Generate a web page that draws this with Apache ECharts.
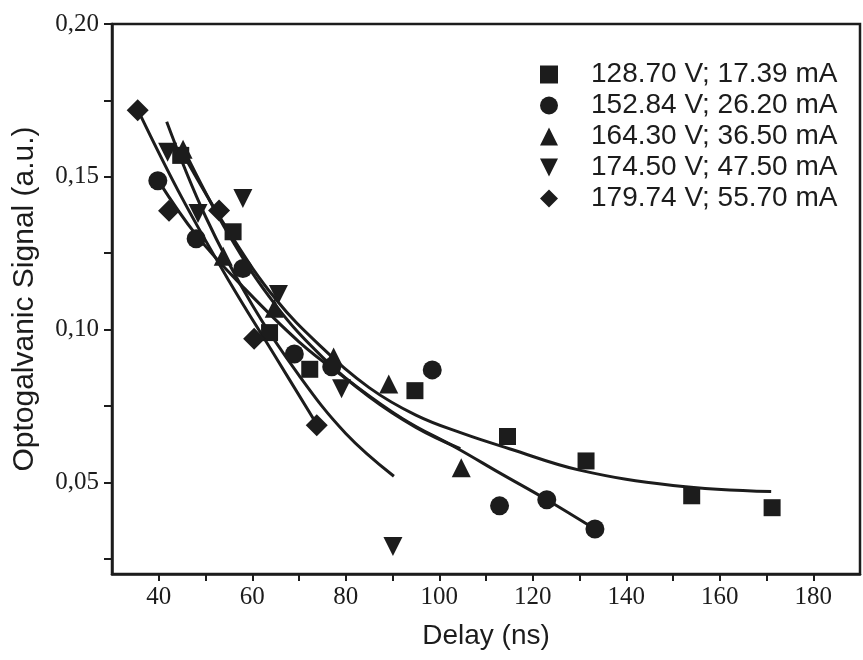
<!DOCTYPE html>
<html>
<head>
<meta charset="utf-8">
<script src="https://cdn.jsdelivr.net/npm/echarts@6/dist/echarts.min.js"></script>
<style>html,body{margin:0;padding:0;background:#fff}#c{width:863px;height:660px}</style>
</head>
<body>
<div id="c"></div>
<script>
// ---- data ----
const seriesNames = ['128.70 V; 17.39 mA', '152.84 V; 26.20 mA', '164.30 V; 36.50 mA', '174.50 V; 47.50 mA', '179.74 V; 55.70 mA'];

const delaySq = [44.7, 55.9, 63.7, 72.3, 94.8, 114.6, 131.4, 154.0, 171.2];
const signalSq = [0.157, 0.132, 0.099, 0.087, 0.080, 0.065, 0.057, 0.0456, 0.0417];

const delayCi = [39.8, 48.0, 58.0, 69.0, 77.0, 98.5, 112.9, 123.0, 133.3];
const signalCi = [0.1487, 0.1297, 0.120, 0.092, 0.0878, 0.0868, 0.0423, 0.0443, 0.0347];

const delayUp = [45.2, 53.8, 64.7, 77.4, 89.2, 104.7];
const signalUp = [0.159, 0.124, 0.107, 0.091, 0.0822, 0.0548];

const delayDn = [41.9, 48.4, 58.0, 65.6, 79.1, 90.1];
const signalDn = [0.158, 0.138, 0.1429, 0.1115, 0.0806, 0.029];

const delayDi = [35.5, 42.2, 52.9, 60.4, 73.8];
const signalDi = [0.1718, 0.1389, 0.139, 0.097, 0.0687];

// fitted curves
const fitSqX = [45, 55, 65, 75, 85, 95, 105, 115, 130, 150, 171];
const fitSqY = [0.158, 0.132, 0.110, 0.094, 0.081, 0.072, 0.066, 0.061, 0.054, 0.049, 0.047];
const fitCiX = [39.8, 48, 58, 70, 80, 92, 104, 113, 123, 133.3];
const fitCiY = [0.149, 0.131, 0.114, 0.096, 0.084, 0.071, 0.061, 0.053, 0.0443, 0.0347];
const fitUpX = [45, 55, 65, 75, 85, 95, 104.5];
const fitUpY = [0.160, 0.131, 0.108, 0.091, 0.078, 0.068, 0.061];
const fitDnX = [41.7, 50, 60, 70, 80, 90.3];
const fitDnY = [0.168, 0.137, 0.108, 0.085, 0.066, 0.052];
const fitDiX = [35.5, 45, 55, 65, 73.8];
const fitDiY = [0.172, 0.143, 0.116, 0.091, 0.069];

const xTickValues = [40, 50, 60, 70, 80, 90, 100, 110, 120, 130, 140, 150, 160, 170, 180];
const xLabelValues = [40, 60, 80, 100, 120, 140, 160, 180];
const yTickValues = [0.025, 0.05, 0.075, 0.10, 0.125, 0.15, 0.175, 0.20];
const yLabelValues = [0.05, 0.10, 0.15, 0.20];

// ---- chart ----
const ink = '#1c1c1c';
const downTri = 'path://M0,0L2,0L1,2Z';
const zip = (xs, ys) => xs.map((x, i) => [x, ys[i]]);

const marks = [
  { name: seriesNames[0], data: zip(delaySq, signalSq), symbol: 'rect', size: 17 },
  { name: seriesNames[1], data: zip(delayCi, signalCi), symbol: 'circle', size: 19 },
  { name: seriesNames[2], data: zip(delayUp, signalUp), symbol: 'triangle', size: 19 },
  { name: seriesNames[3], data: zip(delayDn, signalDn), symbol: downTri, size: 19 },
  { name: seriesNames[4], data: zip(delayDi, signalDi), symbol: 'diamond', size: 22 }
];
const fits = [zip(fitSqX, fitSqY), zip(fitCiX, fitCiY), zip(fitUpX, fitUpY), zip(fitDnX, fitDnY), zip(fitDiX, fitDiY)];

const series = [];
fits.forEach((d, i) => series.push({
  name: 'fit' + i, type: 'line', data: d, smooth: 0.4, symbol: 'none',
  lineStyle: { color: ink, width: 3 }, z: 2, silent: true
}));
marks.forEach(m => series.push({
  name: m.name, type: 'scatter', data: m.data, symbol: m.symbol,
  symbolSize: m.size, itemStyle: { color: ink, opacity: 1 }, z: 3
}));

const chart = echarts.init(document.getElementById('c'), null, { renderer: 'canvas' });
chart.setOption({
  animation: false,
  backgroundColor: '#fff',
  grid: { left: 112, right: 3, top: 24, bottom: 86, show: true, borderColor: ink, borderWidth: 2.5, backgroundColor: 'transparent' },
  legend: {
    data: seriesNames.map((n, i) => ({ name: n, icon: marks[i].symbol, itemStyle: { color: ink } })),
    orient: 'vertical', left: 535, top: 54, itemGap: 0,
    itemWidth: 18, itemHeight: 18,
    textStyle: { fontFamily: 'Liberation Sans, Arial, sans-serif', fontSize: 28, color: ink, lineHeight: 31, padding: [0, 0, 0, 28] },
    selectedMode: false
  },
  xAxis: {
    type: 'value', min: 30, max: 190,
    name: 'Delay (ns)', nameLocation: 'middle', nameGap: 48,
    nameTextStyle: { fontFamily: 'Liberation Sans, Arial, sans-serif', fontSize: 28, color: ink },
    axisLine: { show: true, lineStyle: { color: ink, width: 2.5 } },
    axisTick: { show: true, inside: false, length: 7, customValues: xTickValues, lineStyle: { color: ink, width: 2 } },
    axisLabel: { customValues: xLabelValues, margin: 11, fontFamily: 'Liberation Serif, Times New Roman, serif', fontSize: 25, color: ink },
    splitLine: { show: false }
  },
  yAxis: {
    type: 'value', min: 0.02, max: 0.20,
    name: 'Optogalvanic Signal (a.u.)', nameLocation: 'middle', nameGap: 72, nameRotate: 90,
    nameTextStyle: { fontFamily: 'Liberation Sans, Arial, sans-serif', fontSize: 30, color: ink },
    axisLine: { show: true, lineStyle: { color: ink, width: 2.5 } },
    axisTick: { show: true, inside: false, length: 8, customValues: yTickValues, lineStyle: { color: ink, width: 2 } },
    axisLabel: {
      customValues: yLabelValues, margin: 13, fontFamily: 'Liberation Serif, Times New Roman, serif', fontSize: 25, color: ink,
      formatter: v => v.toFixed(2).replace('.', ',')
    },
    splitLine: { show: false }
  },
  series: series
});
</script>
</body>
</html>
